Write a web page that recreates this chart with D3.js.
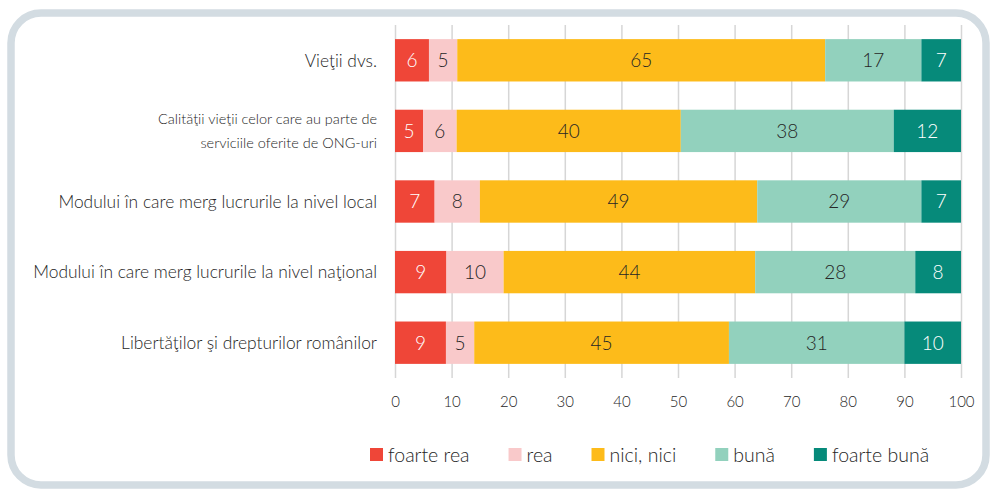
<!DOCTYPE html>
<html>
<head>
<meta charset="utf-8">
<script src="https://cdn.jsdelivr.net/npm/d3@7"></script>
<style>
	body { margin: 0; background: #fff; }
	text { font-family: Lato, 'Open Sans', sans-serif; font-weight: 300; }
</style>
</head>
<body>
<div id="chart"></div>
<script>

var categories = [
	['Vieţii dvs.'],
	['Calităţii vieţii celor care au parte de', 'serviciile oferite de ONG-uri'],
	['Modului în care merg lucrurile la nivel local'],
	['Modului în care merg lucrurile la nivel naţional'],
	['Libertăţilor şi drepturilor românilor']
]
var seriesNames = ['foarte rea', 'rea', 'nici, nici', 'bună', 'foarte bună']
var colors = ['#ef4638', '#f9c9ca', '#fdbb1a', '#92d1bd', '#068a7a']
var labelColors = ['#ffffff', '#262626', '#262626', '#262626', '#ffffff']

var foarteRea = [6, 5, 7, 9, 9]
var rea = [5, 6, 8, 10, 5]
var niciNici = [65, 40, 49, 44, 45]
var buna = [17, 38, 29, 28, 31]
var foarteBuna = [7, 12, 7, 8, 10]

var xTicks = [0, 10, 20, 30, 40, 50, 60, 70, 80, 90, 100]

var width = 993
var height = 489

var margin = {
	'top' : 25,
	'bottom' : 111,
	'left' : 395,
	'right' : 32,
}
var chartWidth = width - margin.left - margin.right
var chartHeight = height - margin.top - margin.bottom

var svg = d3.select('#chart').append('svg')
	.attr('width', width)
	.attr('height', height)

// frame
svg.append('rect')
	.attr('x', 11)
	.attr('y', 13)
	.attr('width', 975)
	.attr('height', 472)
	.attr('rx', 30)
	.attr('fill', 'none')
	.attr('stroke', '#d3dce2')
	.attr('stroke-width', 7.5)

var chartInner = svg.append('g')
	.attr('transform', 'translate(' + margin.left + ',' + margin.top + ')')

var xScale = d3.scaleLinear()
	.domain([0, 100])
	.range([0, chartWidth])

var yScale = d3.scaleBand()
	.domain(d3.range(categories.length))
	.range([0, chartHeight])
	.paddingInner(0.4)
	.paddingOuter(0.2)

// 100% stacked rows
var rows = categories.map(function(c, i) {
	var vals = [foarteRea[i], rea[i], niciNici[i], buna[i], foarteBuna[i]]
	var total = d3.sum(vals)
	var acc = 0
	return vals.map(function(v, k) {
		var seg = { row: i, k: k, value: v, x0: acc / total * 100, x1: (acc + v) / total * 100 }
		acc += v
		return seg
	})
})

// grid + axis
var xAxis = chartInner.append('g')
	.attr('transform', 'translate(0,' + chartHeight + ')')
	.call(
		d3.axisBottom()
			.scale(xScale)
			.tickValues(xTicks)
			.tickSize(chartHeight)
	)
xAxis.select('.domain').remove()
xAxis.selectAll('.tick line')
	.attr('y1', -chartHeight)
	.attr('y2', 0)
	.attr('stroke', '#d6d6d6')
	.attr('stroke-width', 1.5)
xAxis.selectAll('.tick text')
	.attr('y', 24)
	.attr('dy', '0.35em')
	.attr('font-size', 15)
	.attr('fill', '#262626')
	.style('font-family', 'Lato, sans-serif')
	.style('font-weight', 300)

var segs = chartInner.selectAll('g.seg')
	.data(d3.merge(rows))
	.enter()
	.append('g')
	.attr('class', 'seg')

segs.append('rect')
	.attr('x', function(d) { return xScale(d.x0) })
	.attr('y', function(d) { return yScale(d.row) })
	.attr('width', function(d) { return xScale(d.x1) - xScale(d.x0) })
	.attr('height', yScale.bandwidth())
	.attr('fill', function(d) { return colors[d.k] })

segs.append('text')
	.attr('x', function(d) { return xScale((d.x0 + d.x1) / 2) })
	.attr('y', function(d) { return yScale(d.row) + yScale.bandwidth() / 2 })
	.attr('dy', '0.36em')
	.attr('text-anchor', 'middle')
	.attr('font-size', 19)
	.attr('fill', function(d) { return labelColors[d.k] })
	.text(function(d) { return d.value })

// category labels
var catLabels = chartInner.selectAll('text.cat')
	.data(categories)
	.enter()
	.append('text')
	.attr('class', 'cat')
	.attr('text-anchor', 'end')
	.attr('fill', '#262626')
	.attr('font-size', function(d) { return d.length > 1 ? 14.5 : 17.4 })
	.attr('y', function(d, i) { return yScale(i) + yScale.bandwidth() / 2 })

catLabels.selectAll('tspan')
	.data(function(d) { return d })
	.enter()
	.append('tspan')
	.attr('x', -18)
	.attr('dy', function(t, j, nodes) {
		var n = nodes.length
		return j === 0 ? (0.36 - (n - 1) * 0.83) + 'em' : '1.66em'
	})
	.text(function(t) { return t })

// legend
var legend = svg.append('g')
	.attr('transform', 'translate(370,448)')

var lx = 0
seriesNames.forEach(function(name, k) {
	var item = legend.append('g').attr('transform', 'translate(' + lx + ',0)')
	item.append('rect')
		.attr('width', 13)
		.attr('height', 13)
		.attr('fill', colors[k])
	var t = item.append('text')
		.attr('x', 18)
		.attr('y', 6.5)
		.attr('dy', '0.36em')
		.attr('font-size', 19.5)
		.attr('fill', '#262626')
		.text(name)
	lx += 18 + t.node().getComputedTextLength() + 39
})

</script>
</body>
</html>
